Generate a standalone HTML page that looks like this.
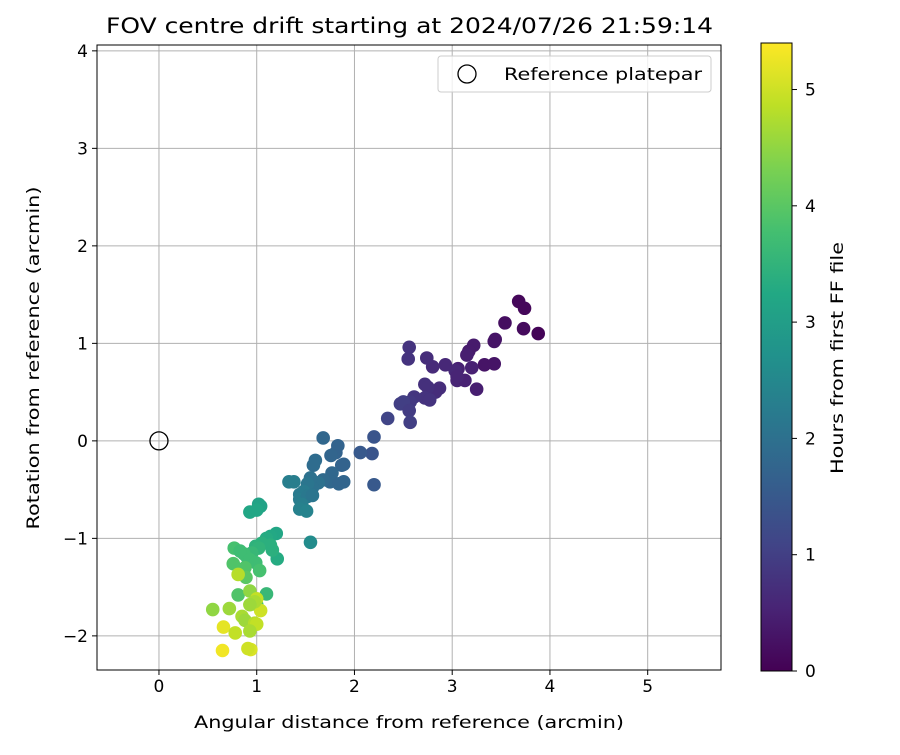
<!DOCTYPE html>
<html><head><meta charset="utf-8">
<style>body{margin:0;background:#fff;}svg text{font-family:"DejaVu Sans","Liberation Sans",sans-serif;}</style>
</head><body>
<svg id="chart" width="900" height="750" xmlns="http://www.w3.org/2000/svg"></svg>
<script>
const xs=[3.68,3.74,3.54,3.88,3.73,3.44,3.43,3.22,3.17,3.15,3.33,3.43,3.20,3.06,3.03,2.93,2.80,2.74,2.56,2.55,3.05,3.13,3.25,3.05,2.87,2.83,2.72,2.75,2.72,2.77,2.61,2.57,2.47,2.50,2.56,2.57,2.34,
2.20,2.18,2.06,2.20,1.68,1.83,1.81,1.76,1.89,1.87,1.60,1.58,1.77,1.75,1.89,1.84,1.68,1.63,1.57,1.55,1.52,1.48,1.44,1.44,1.52,1.57,1.33,1.38,1.46,1.44,1.51,1.55,
1.02,1.04,0.93,1.00,1.20,1.14,1.10,1.21,1.16,1.14,1.05,0.99,1.02,0.95,0.90,0.87,0.77,0.83,0.76,0.93,0.99,1.03,0.88,0.89,0.81,1.10,1.00,
0.81,0.93,1.00,1.04,0.98,0.93,0.55,0.72,0.85,0.88,0.98,1.00,0.66,0.78,0.93,0.94,0.65,0.91];
const ys=[1.43,1.36,1.21,1.10,1.15,1.04,1.02,0.98,0.92,0.88,0.78,0.79,0.75,0.74,0.72,0.78,0.76,0.85,0.96,0.84,0.62,0.62,0.53,0.66,0.54,0.50,0.58,0.55,0.44,0.42,0.45,0.40,0.38,0.40,0.31,0.19,0.23,
0.04,-0.13,-0.12,-0.45,0.03,-0.05,-0.12,-0.15,-0.24,-0.25,-0.20,-0.25,-0.33,-0.42,-0.42,-0.44,-0.40,-0.43,-0.48,-0.38,-0.44,-0.52,-0.55,-0.60,-0.57,-0.56,-0.42,-0.42,-0.65,-0.70,-0.72,-1.04,
-0.65,-0.67,-0.73,-0.71,-0.95,-0.98,-1.00,-1.21,-1.12,-1.07,-1.05,-1.08,-1.10,-1.15,-1.19,-1.16,-1.10,-1.13,-1.26,-1.22,-1.25,-1.33,-1.30,-1.40,-1.58,-1.57,-1.68,
-1.37,-1.54,-1.62,-1.74,-1.65,-1.68,-1.73,-1.72,-1.80,-1.84,-1.87,-1.88,-1.91,-1.97,-1.95,-2.14,-2.15,-2.13];
const hours=[0.1,0.1,0.2,0.05,0.15,0.3,0.3,0.4,0.4,0.45,0.3,0.3,0.5,0.5,0.6,0.6,0.65,0.7,0.8,0.8,0.55,0.5,0.45,0.55,0.7,0.7,0.75,0.75,0.8,0.8,0.85,0.9,1.0,1.0,0.95,1.0,1.1,
1.4,1.4,1.5,1.5,1.8,1.7,1.7,1.75,1.7,1.7,1.9,1.9,1.8,1.8,1.75,1.75,1.85,2.0,2.0,2.0,2.1,2.2,2.2,2.25,2.15,2.1,2.3,2.3,2.3,2.35,2.4,2.6,
3.1,3.1,3.2,3.2,3.2,3.25,3.3,3.3,3.4,3.4,3.4,3.45,3.5,3.6,3.6,3.7,3.8,3.7,3.9,3.7,3.7,3.8,3.9,4.0,3.9,3.6,3.8,
4.8,4.5,4.9,5.0,4.7,4.6,4.5,4.6,4.7,4.6,4.8,4.9,5.2,4.9,4.7,5.1,5.3,5.0];
const xTicks=[0,1,2,3,4,5];
const yTicks=[-2,-1,0,1,2,3,4];
const cTicks=[0,1,2,3,4,5];
const X0=97,X1=721,Y0=45,Y1=670,xmin=-0.634,xmax=5.75,ymin=-2.35,ymax=4.06,cmax=5.4;
const sx=v=>X0+(v-xmin)/(xmax-xmin)*(X1-X0);
const sy=v=>Y1-(v-ymin)/(ymax-ymin)*(Y1-Y0);
const vir=["#440154","#482475","#414487","#355f8d","#2a788e","#21918c","#22a884","#44bf70","#7ad151","#bddf26","#fde725"];
function hex(h){return [1,3,5].map(i=>parseInt(h.substr(i,2),16));}
function cmap(t){t=Math.max(0,Math.min(1,t))*10;const i=Math.min(9,Math.floor(t)),f=t-i;const a=hex(vir[i]),b=hex(vir[i+1]);return "rgb("+a.map((v,k)=>Math.round(v+(b[k]-v)*f)).join(",")+")";}
const svg=document.getElementById('chart');const NS="http://www.w3.org/2000/svg";
function mk(tag,attrs,parent,name){const e=document.createElementNS(NS,tag);for(const k in attrs)e.setAttribute(k,attrs[k]);


(parent||svg).appendChild(e);return e;}
function txt(x,y,s,size,anchor,name,extra){const t=mk('text',Object.assign({x:x,y:y,'font-size':size,'text-anchor':anchor,fill:'#000'},extra||{}),svg,name);t.textContent=s;return t;}
xTicks.forEach(v=>{mk('line',{x1:sx(v),x2:sx(v),y1:Y0,y2:Y1,stroke:'#b0b0b0','stroke-width':1},svg,'x-grid-line');
mk('line',{x1:sx(v),x2:sx(v),y1:Y1,y2:Y1+5,stroke:'#000'},svg,'x-tick');
txt(sx(v),Y1+22,String(v),17,'middle','x-tick-label');});
yTicks.forEach(v=>{mk('line',{x1:X0,x2:X1,y1:sy(v),y2:sy(v),stroke:'#b0b0b0','stroke-width':1},svg,'y-grid-line');
mk('line',{x1:X0-5,x2:X0,y1:sy(v),y2:sy(v),stroke:'#000'},svg,'y-tick');
txt(X0-9,sy(v)+6,v<0?'\u2212'+(-v):String(v),17,'end','y-tick-label');});
for(let i=0;i<xs.length;i++){mk('circle',{cx:sx(xs[i]),cy:sy(ys[i]),r:6.8,fill:cmap(hours[i]/cmax)},svg,'data-point');}
mk('circle',{cx:sx(0),cy:sy(0),r:9,fill:'none',stroke:'#000','stroke-width':1.3},svg,'reference-platepar-marker');
mk('rect',{x:X0,y:Y0,width:X1-X0,height:Y1-Y0,fill:'none',stroke:'#000','stroke-width':1},svg,'plot-frame');
mk('rect',{x:438,y:56,width:273,height:36,rx:3,fill:'#fff','fill-opacity':0.8,stroke:'#ccc'},svg,'legend-box');
mk('circle',{cx:467,cy:74,r:9,fill:'none',stroke:'#000','stroke-width':1.3},svg,'legend-marker');
txt(504,80,'Reference platepar',17,'start','legend-label',{textLength:198,lengthAdjust:'spacingAndGlyphs'});
txt(106,33,'FOV centre drift starting at 2024/07/26 21:59:14',21,'start','chart-title',{textLength:607,lengthAdjust:'spacingAndGlyphs'});
txt(194,728,'Angular distance from reference (arcmin)',17,'start','x-axis-title',{textLength:430,lengthAdjust:'spacingAndGlyphs'});
txt(0,0,'Rotation from reference (arcmin)',17,'middle','y-axis-title',{transform:'translate(39,358) rotate(-90)',textLength:343,lengthAdjust:'spacingAndGlyphs'});
const CB0=43,CB1=671,CX=761,CW=31;
const defs=mk('defs',{},svg,'defs');const g=mk('linearGradient',{id:'vg',x1:0,y1:1,x2:0,y2:0},defs,'colorbar-gradient');
vir.forEach((c,i)=>mk('stop',{offset:i/10,'stop-color':c},g,'gradient-stop'));
mk('rect',{x:CX,y:CB0,width:CW,height:CB1-CB0,fill:'url(#vg)',stroke:'#000'},svg,'colorbar');
cTicks.forEach(v=>{const y=CB1-v/cmax*(CB1-CB0);mk('line',{x1:CX+CW,x2:CX+CW+5,y1:y,y2:y,stroke:'#000'},svg,'colorbar-tick');
txt(CX+CW+13,y+6,String(v),17,'start','colorbar-tick-label');});
txt(0,0,'Hours from first FF file',17,'middle','colorbar-title',{transform:'translate(843,358) rotate(-90)',textLength:232,lengthAdjust:'spacingAndGlyphs'});
</script>
</body></html>
